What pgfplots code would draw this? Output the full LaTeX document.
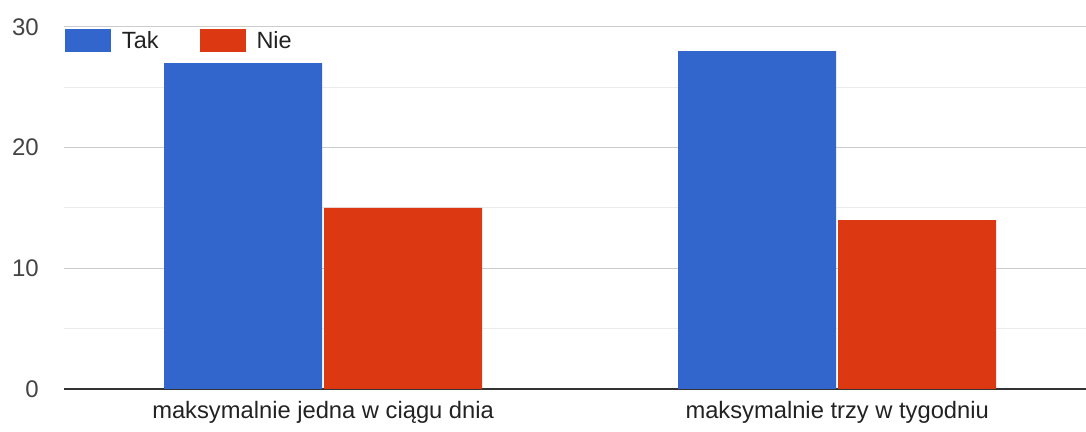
\documentclass[border=0pt]{standalone}
\usepackage{pgfplots}
\pgfplotsset{compat=1.18}
\usepackage{fontspec}
\setmainfont{Liberation Sans}
\definecolor{gblue}{HTML}{3366CC}
\definecolor{gred}{HTML}{DC3912}
\definecolor{tickgray}{HTML}{444444}
\definecolor{labgray}{HTML}{222222}
\definecolor{majgrid}{HTML}{CCCCCC}
\definecolor{mingrid}{HTML}{EBEBEB}
\definecolor{basecol}{HTML}{333333}
\begin{document}
\begin{tikzpicture}
\useasboundingbox (-48pt,-32.25pt) rectangle (766.5pt,291.75pt);
\begin{axis}[
  at={(0,0)}, anchor=south west,
  scale only axis,
  width=766.5pt, height=271.5pt,
  xmin=-0.504, xmax=1.484,
  ymin=0, ymax=30,
  ybar=1.5pt,
  bar width=118.5pt,
  axis line style={draw=none},
  major tick length=0pt, minor tick length=0pt,
  xtick={0,1},
  xticklabels={maksymalnie jedna w ciągu dnia, maksymalnie trzy w tygodniu},
  xticklabel style={anchor=north, inner sep=0pt, text height=0.72em, text depth=0.22em, yshift=-14.4pt, font=\fontsize{17.8}{21}\selectfont, text=labgray},
  ytick={0,10,20,30},
  minor y tick num=1,
  ymajorgrids, yminorgrids,
  major grid style={majgrid, line width=0.75pt},
  minor grid style={mingrid, line width=0.75pt},
  yticklabel style={anchor=east, inner sep=0pt, xshift=-18.75pt, font=\fontsize{18}{21}\selectfont, text=tickgray},
  /pgf/number format/assume math mode=true,
  extra y ticks={0},
  extra y tick labels={},
  extra y tick style={major grid style={basecol, line width=1.5pt}},
  legend image code/.code={\fill[#1, draw=none] (0pt,-8.625pt) rectangle (34.5pt,8.625pt);},
  legend style={draw=none, fill=none, at={(0,1)}, anchor=north west, xshift=0.75pt, yshift=-1.5pt,
    inner sep=0pt, outer sep=0pt, legend columns=2,
    font=\fontsize{17.6}{21}\selectfont, text=labgray,
    nodes={inner sep=0pt},
    /tikz/every odd column/.append style={column sep=8.25pt},
    /tikz/every even column/.append style={column sep=30.75pt}},
  legend cell align=left,
]
\addplot[fill=gblue, draw=none] coordinates {(0,27) (1,28)};
\addplot[fill=gred, draw=none] coordinates {(0,15) (1,14)};
\legend{Tak, Nie}
\end{axis}
\end{tikzpicture}
\end{document}
